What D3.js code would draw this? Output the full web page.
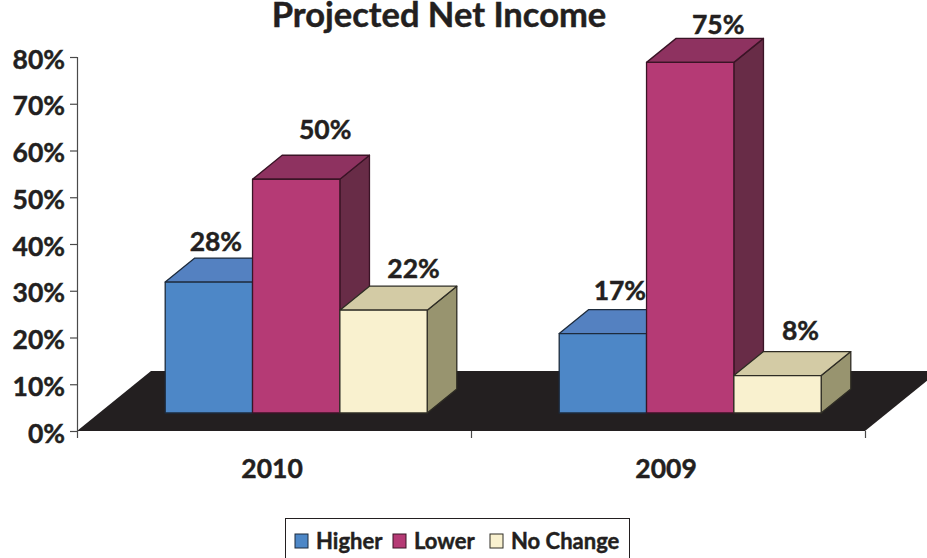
<!DOCTYPE html>
<html>
<head>
<meta charset="utf-8">
<script src="https://cdn.jsdelivr.net/npm/d3@7"></script>
<style>
  html, body { margin: 0; padding: 0; background: #fff; overflow: hidden; }
  text { font-family: Lato, "Open Sans", sans-serif; font-weight: 700; fill: #231f20; stroke: #231f20; stroke-width: 0.45px; }
</style>
</head>
<body>
<svg id="chart" width="927" height="558"></svg>
<script>
const years = ["2010", "2009"]
const seriesNames = ["Higher", "Lower", "No Change"]
const higher = [0.28, 0.17]
const lower = [0.50, 0.75]
const noChange = [0.22, 0.08]
const yTicks = [0, 0.1, 0.2, 0.3, 0.4, 0.5, 0.6, 0.7, 0.8]

const frontColors = ["#4d87c7", "#b53a75", "#f9f1cf"]
const topColors = ["#5481c1", "#8e3260", "#d3cba5"]
const sideColors = ["#3f6a9c", "#682c47", "#98946f"]
const edgeColors = ["#1d2b3c", "#3a1426", "#2e2c24"]

// value labels were placed by hand in the original, one shift per [year][series]
const labelShift = [[7, 29, 30], [17, 28, 23]]
const labelLift = [[7, 16, 8], [10, 4, 12]]
const legendX = [295, 393, 490]

const svg = d3.select("#chart")

const y = d3.scaleLinear().domain([0, 0.8]).range([431, 57])
const x = d3.scaleBand().domain(years).range([77, 865])
const inner = d3.scaleBand().domain(seriesNames).range([-131, 131])
const edges = d3.scaleLinear().domain([0, 2]).range(x.range())

// oblique depth of the floor, bars stand between 30% and 70% of it
const depthX = 74, depthY = 60
const barFront = 0.3, barBack = 0.7

const poly = pts => pts.map(p => p.join(",")).join(" ")

// floor
svg.append("polygon")
   .attr("points", poly([[edges(0), y(0)], [edges(2), y(0)],
                         [edges(2) + depthX, y(0) - depthY], [edges(0) + depthX, y(0) - depthY]]))
   .attr("fill", "#231f20")

// axes
const axisLeft = svg.append("g")
   .attr("class", "axis axis--y")
   .attr("transform", "translate(" + edges(0) + ",0)")
   .call(d3.axisLeft(y).tickValues(yTicks).tickFormat(d3.format(".0%")).tickSize(7).tickPadding(5))

axisLeft.selectAll("text")
   .attr("dy", null)
   .attr("y", 11)
   .style("font-size", "26.5px")
   .style("font-family", null)

const axisTicks = svg.append("g")
   .attr("class", "axis axis--x")
   .attr("transform", "translate(0," + y(0) + ")")
   .call(d3.axisBottom(edges).tickValues([0, 1, 2]).tickFormat("").tickSize(7).tickSizeOuter(0))

svg.selectAll(".axis path, .axis line").attr("stroke", "#4a4a4a").attr("stroke-width", 1.2)
svg.select(".axis--x .domain").remove()

const axisCats = svg.append("g")
   .attr("transform", "translate(-2," + y(0) + ")")
   .call(d3.axisBottom(x).tickSize(0).tickPadding(24))
axisCats.select(".domain").remove()
axisCats.selectAll("text")
   .attr("dy", null)
   .attr("y", 47)
   .style("font-size", "26.5px")
   .style("font-family", null)

// bars
const values = [higher, lower, noChange]
const dx = depthX * (barBack - barFront), dy = depthY * (barBack - barFront)
const sx = depthX * barFront, sy = depthY * barFront

years.forEach((year, yi) => {
  const center = x(year) + x.bandwidth() / 2 + sx
  const g = svg.append("g").attr("class", "group")

  seriesNames.forEach((name, si) => {
    const v = values[si][yi]
    const x0 = center + inner(name), x1 = x0 + inner.bandwidth()
    const top = y(v) - sy, base = y(0) - sy
    const bar = g.append("g")
                 .attr("stroke", edgeColors[si])
                 .attr("stroke-width", 1.3)
                 .attr("stroke-linejoin", "round")

    bar.append("polygon")
       .attr("points", poly([[x1, top], [x1 + dx, top - dy], [x1 + dx, base - dy], [x1, base]]))
       .attr("fill", sideColors[si])
    bar.append("polygon")
       .attr("points", poly([[x0, top], [x0 + dx, top - dy], [x1 + dx, top - dy], [x1, top]]))
       .attr("fill", topColors[si])
    bar.append("rect")
       .attr("x", x0)
       .attr("y", top)
       .attr("width", x1 - x0)
       .attr("height", base - top)
       .attr("fill", frontColors[si])
  })

  // value labels go on top of all three bars
  seriesNames.forEach((name, si) => {
    const v = values[si][yi]
    g.append("text")
     .attr("x", center + inner(name) + inner.bandwidth() / 2 + labelShift[yi][si])
     .attr("y", y(v) - sy - dy - labelLift[yi][si])
     .attr("text-anchor", "middle")
     .style("font-size", "26.5px")
     .text(d3.format(".0%")(v))
  })
})

// title
svg.append("text")
   .attr("x", 439)
   .attr("y", 27)
   .attr("text-anchor", "middle")
   .style("font-size", "34.5px")
   .text("Projected Net Income")

// legend
svg.append("rect")
   .attr("x", 285.5)
   .attr("y", 518.5)
   .attr("width", 344)
   .attr("height", 50)
   .attr("fill", "#fff")
   .attr("stroke", "#231f20")
   .attr("stroke-width", 1)

seriesNames.forEach((name, si) => {
  svg.append("rect")
     .attr("x", legendX[si])
     .attr("y", 534)
     .attr("width", 13)
     .attr("height", 14)
     .attr("fill", frontColors[si])
     .attr("stroke", edgeColors[si])
  svg.append("text")
     .attr("x", legendX[si] + 21)
     .attr("y", 549)
     .style("font-size", "22px")
     .text(name)
})
</script>
</body>
</html>
